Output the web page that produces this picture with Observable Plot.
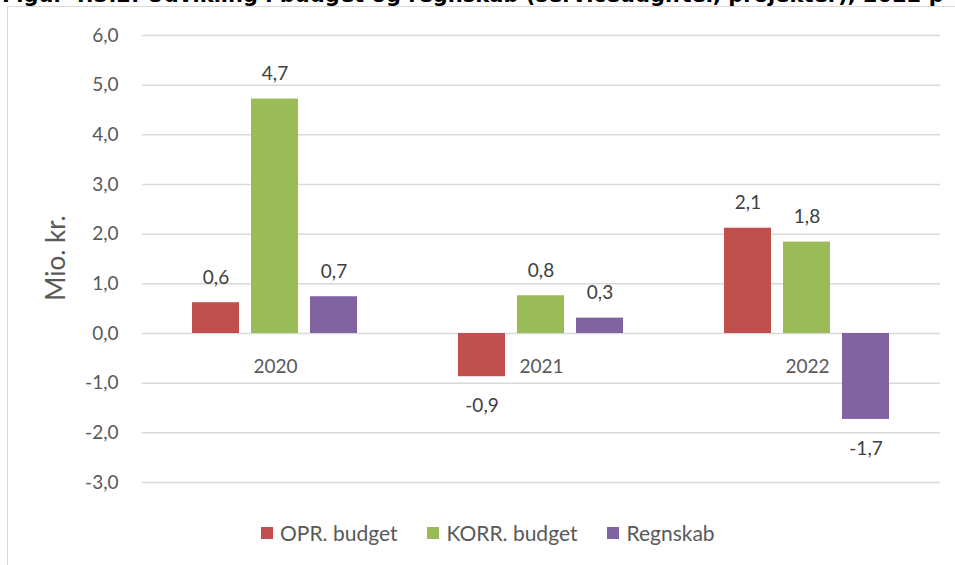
<!DOCTYPE html>
<html>
<head>
<meta charset="utf-8">
<script src="https://cdn.jsdelivr.net/npm/d3@7"></script>
<script src="https://cdn.jsdelivr.net/npm/@observablehq/plot@0.6"></script>
<style>
  html, body { margin: 0; padding: 0; background: #fff; }
  #wrap { position: relative; width: 955px; height: 565px; overflow: hidden; }
  #frame { position: absolute; left: 7px; top: 6px; width: 960px; height: 570px; border: 1.5px solid #d9d9d9; box-sizing: border-box; }
  #title { position: absolute; left: 2px; top: -17px; font-family: "DejaVu Sans"; font-weight: bold; font-size: 21px; color: #000; white-space: nowrap; }
  #chart { position: absolute; left: 0; top: 0; }
  #legend { position: absolute; top: 520px; left: 261px; display: flex; gap: 30px; font-family: Lato; font-size: 21px; color: #595959; }
  #legend .item { display: flex; align-items: center; gap: 7px; }
  #legend .sw { width: 12px; height: 12px; display: inline-block; }
</style>
</head>
<body>
<div id="wrap">
  <div id="frame"></div>
  <div id="title">Figur 4.3.2: Udvikling i budget og regnskab (serviceudgifter, projekter), 2022 p</div>
  <div id="chart"></div>
  <div id="legend"></div>
</div>
<script>
const years = ["2020", "2021", "2022"];
const series = ["OPR. budget", "KORR. budget", "Regnskab"];
const colors = ["#C0504D", "#9BBB59", "#8064A2"];
const oprBudget = [0.62, -0.87, 2.12];
const korrBudget = [4.72, 0.76, 1.84];
const regnskab = [0.74, 0.31, -1.73];
const yTicks = [-3, -2, -1, 0, 1, 2, 3, 4, 5, 6];
const yLabel = "Mio. kr.";

const seriesValues = [oprBudget, korrBudget, regnskab];
const data = [];
years.forEach((yr, i) => {
  series.forEach((s, j) => data.push({year: yr, series: s, value: seriesValues[j][i]}));
});
const fmt = v => v.toFixed(1).replace(".", ",");

const chart = Plot.plot({
  width: 955,
  height: 500,
  marginTop: 35,
  marginBottom: 18,
  marginLeft: 142,
  marginRight: 15,
  style: {fontFamily: "Lato", fontSize: "19px", color: "#595959", background: "transparent", overflow: "visible"},
  fx: {domain: years, padding: 0, axis: null},
  x: {domain: series, paddingInner: 0.2, paddingOuter: 0.854, axis: null},
  y: {domain: [-3, 6], ticks: yTicks, tickFormat: fmt, tickSize: 0, tickPadding: 24, label: null},
  color: {domain: series, range: colors},
  marks: [
    Plot.ruleY(yTicks, {stroke: "#d9d9d9", strokeWidth: 1.5}),
    Plot.barY(data, {fx: "year", x: "series", y: "value", fill: "series"}),
    Plot.text(data.filter(d => d.value >= 0), {fx: "year", x: "series", y: "value", text: d => fmt(d.value), dy: -25, fill: "#404040"}),
    Plot.text(data.filter(d => d.value < 0), {fx: "year", x: "series", y: "value", text: d => fmt(d.value), dy: 29, fill: "#404040"}),
    Plot.text(years, {fx: d => d, y: () => 0, text: d => d, dy: 33, fill: "#595959"})
  ]
});
// y-axis title
const svg = d3.select(chart);
svg.append("text")
  .attr("transform", "translate(58,258) rotate(-90)")
  .attr("text-anchor", "middle")
  .attr("dominant-baseline", "middle")
  .attr("font-family", "Lato")
  .attr("font-size", "26px")
  .attr("fill", "#595959")
  .text(yLabel);
document.getElementById("chart").appendChild(chart);

const legend = document.getElementById("legend");
series.forEach((s, i) => {
  const it = document.createElement("div");
  it.className = "item";
  it.innerHTML = `<span class="sw" style="background:${colors[i]}"></span><span>${s}</span>`;
  legend.appendChild(it);
});
</script>
</body>
</html>
